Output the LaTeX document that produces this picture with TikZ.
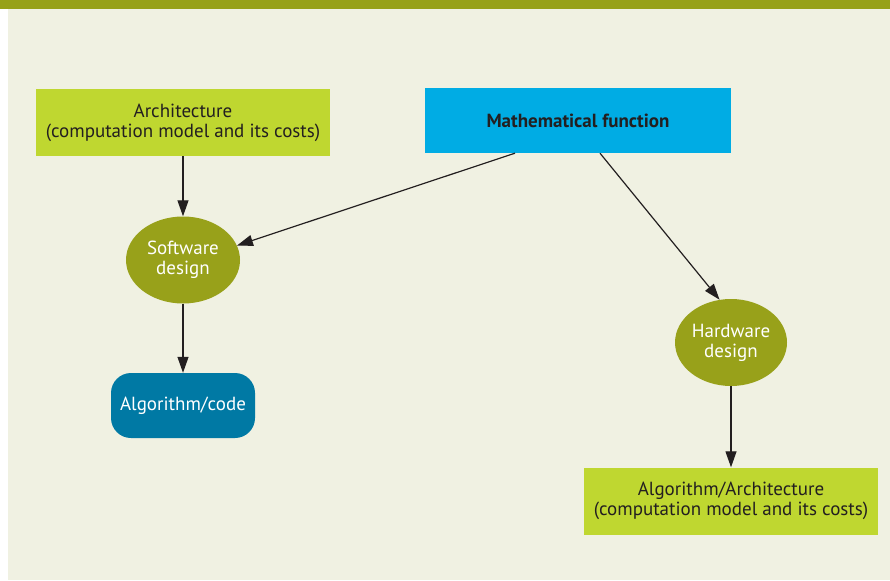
\documentclass[tikz,border=0pt]{standalone}
\usepackage{fontspec}
\setmainfont{PT Sans}
\usetikzlibrary{arrows.meta,shapes.geometric}
\definecolor{olivebar}{HTML}{97A118}
\definecolor{paper}{HTML}{F0F1E2}
\definecolor{limebox}{HTML}{BFD730}
\definecolor{skybox}{HTML}{00ACE4}
\definecolor{olivenode}{HTML}{98A11A}
\definecolor{tealbox}{HTML}{0079A4}
\definecolor{ink}{HTML}{231F20}
\begin{document}
\begin{tikzpicture}[x=1pt,y=-1pt,font=\fontsize{19}{20}\selectfont,line join=round,>={Triangle[width=11pt,length=16pt]}]
		\tikzset{limebox/.style={fill=limebox,text=ink,minimum width=294pt,minimum height=67pt,align=center},
			designnode/.style={ellipse,fill=olivenode,text=white,minimum width=114pt,minimum height=87pt,inner sep=0pt,align=center},
			flow/.style={->,draw=ink,line width=1.2pt}}
		\useasboundingbox (0,0) rectangle (890,580);
		\fill[olivebar] (0,0) rectangle (890,9);
		\fill[paper] (8,9) rectangle (890,580);
		% boxes and ellipses
		\node[limebox] (arch) at (183,122.5) {Architecture\\(computation model and its costs)};
		\node[fill=skybox,text=ink,minimum width=306pt,minimum height=65pt,font=\fontsize{19}{20}\selectfont\bfseries] (math) at (578,120.5) {Mathematical function};
		\node[designnode] (sw) at (183,260) {Software\\design};
		\node[fill=tealbox,text=white,rounded corners=20pt,minimum width=144pt,minimum height=65pt] (code) at (183,405.5) {Algorithm/code};
		\node[designnode,minimum width=112pt] (hw) at (731,342.5) {Hardware\\design};
		\node[limebox] (algarch) at (731,501) {Algorithm/Architecture\\(computation model and its costs)};
		% connectors
		\draw[flow] (arch) -- (sw);
		\draw[flow] ([xshift=-63pt]math.south) -- (sw.15);
		\draw[flow] ([xshift=22pt]math.south) -- (hw.105);
		\draw[flow] (sw) -- (code);
		\draw[flow] (hw) -- (algarch);
		\end{tikzpicture}
\end{document}
